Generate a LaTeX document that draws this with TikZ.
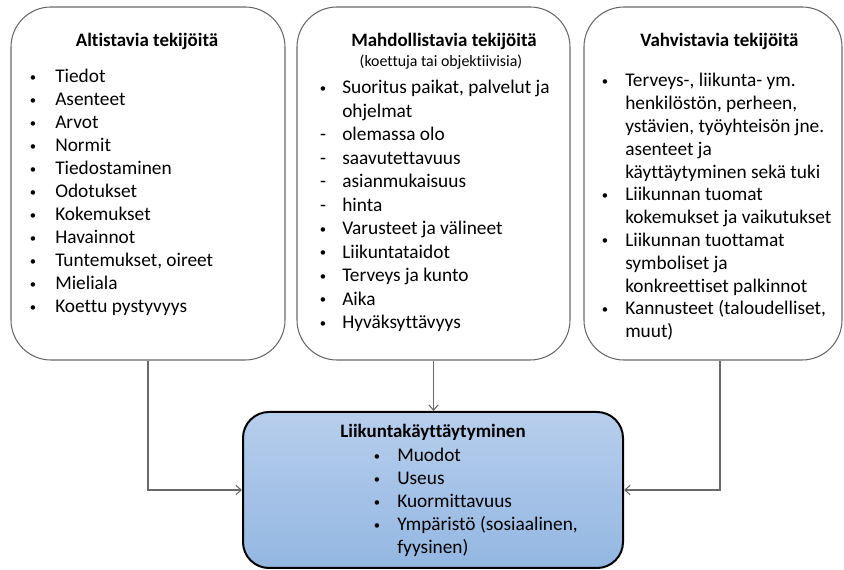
\documentclass[tikz,border=0pt]{standalone}
\usepackage{fontspec}
\setmainfont{Carlito}[Ligatures={NoCommon,NoContextual}]
\usetikzlibrary{arrows.meta,positioning,calc}
\definecolor{linegray}{RGB}{105,105,105}
\definecolor{blueTop}{RGB}{183,206,236}
\definecolor{blueBot}{RGB}{147,183,226}
\newcommand\bul{\raisebox{0.1em}{\fontsize{9.5}{9.5}\selectfont\textbullet}}

\begin{document}
\begin{tikzpicture}[x=0.75pt,y=-0.75pt,
  txt/.style={font=\fontsize{14.5}{17}\selectfont,inner sep=0pt,anchor=base west},
  mk/.style={font=\fontsize{14.5}{17}\selectfont,inner sep=0pt,anchor=base},
  ttl/.style={font=\fontsize{14.2}{17}\selectfont\bfseries,inner sep=0pt,anchor=base},
  factor/.style={draw=linegray,line width=0.8pt,rounded corners=30pt,minimum height=264.75pt,inner sep=0pt},
  behav/.style={draw=black,line width=1.5pt,rounded corners=19.5pt,top color=blueTop,bottom color=blueBot,
    minimum width=285pt,minimum height=117pt,inner sep=0pt},
  conn/.style={draw=linegray,line width=0.8pt,-{Straight Barb[length=4pt,width=7pt]}}]
\useasboundingbox (0,0) rectangle (844,570);

\node[factor,minimum width=205.5pt] (altist) at (148,183.5) {};
\node[factor,minimum width=204.75pt] (mahd) at (433.5,183.5) {};
\node[factor,minimum width=193.5pt] (vahv) at (713,183.5) {};
\node[behav] (liik) at (433,490) {};

\node[ttl] (altistT) at (147,47) {Altistavia tekijöitä};
\foreach \t [count=\i from 0] in {Tiedot,Asenteet,Arvot,Normit,Tiedostaminen,Odotukset,
    Kokemukset,Havainnot,{Tuntemukset, oireet},Mieliala,Koettu pystyvyys}{
  \node[mk] (ab\i) at (33,83+23*\i) {\bul};
  \node[txt] (at\i) at (55,83+23*\i) {\t};
}

\node[ttl] (mahdT) at (444,47) {Mahdollistavia tekijöitä};
\node[mk,font=\fontsize{11.9}{14}\selectfont] (mahdS) at (441,67) {(koettuja tai objektiivisia)};
\foreach \m/\t [count=\i from 0] in {\bul/{Suoritus paikat, palvelut ja},{}/ohjelmat,
    -/olemassa olo,-/saavutettavuus,-/asianmukaisuus,-/hinta,\bul/Varusteet ja välineet,
    \bul/Liikuntataidot,\bul/Terveys ja kunto,\bul/Aika,\bul/Hyväksyttävyys}{
  \node[mk] (mb\i) at (323,94+23.5*\i) {\m};
  \node[txt] (mt\i) at (342,94+23.5*\i) {\t};
}

\node[ttl] (vahvT) at (719.5,47) {Vahvistavia tekijöitä};
\foreach \m/\t [count=\i from 0] in {\bul/{Terveys-, liikunta- ym.},{}/{henkilöstön, perheen,},
    {}/{ystävien, työyhteisön jne.},{}/asenteet ja,{}/käyttäytyminen sekä tuki,
    \bul/Liikunnan tuomat,{}/kokemukset ja vaikutukset,\bul/Liikunnan tuottamat,
    {}/symboliset ja,{}/konkreettiset palkinnot,\bul/{Kannusteet (taloudelliset,},{}/muut)}{
  \node[mk] (vb\i) at (605,87+22.8*\i) {\m};
  \node[txt] (vt\i) at (625,87+22.8*\i) {\t};
}

\node[ttl] (liikT) at (433,438) {Liikuntakäyttäytyminen};
\foreach \m/\t [count=\i from 0] in {\bul/Muodot,\bul/Useus,\bul/Kuormittavuus,
    \bul/{Ympäristö (sosiaalinen,},{}/fyysinen)}{
  \node[mk] (lb\i) at (377,462+23*\i) {\m};
  \node[txt] (lt\i) at (397,462+23*\i) {\t};
}

\coordinate (v3) at ([xshift=5.25pt]vahv.south);
\draw[conn] (altist.south) |- (liik.west);
\draw[conn] (mahd.south) -- (mahd.south |- liik.north);
\draw[conn] (v3) |- (liik.east);
\end{tikzpicture}
\end{document}
